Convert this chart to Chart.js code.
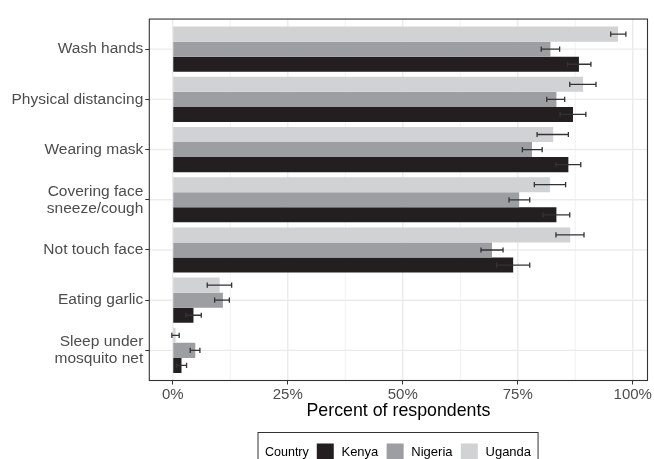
<!DOCTYPE html>
<html>
<head>
<meta charset="utf-8">
<title>Preventive measures by country</title>
<script src="https://cdn.jsdelivr.net/npm/chart.js@4.4.1/dist/chart.umd.min.js"></script>
<style>
  html, body { margin: 0; padding: 0; background: #ffffff; }
  #wrap { width: 654px; height: 459px; position: relative; }
</style>
</head>
<body>
<div id="wrap"><canvas id="chart" width="654" height="459"></canvas></div>
<script>
// Measures asked about, top to bottom
const categories = [
  'Wash hands',
  'Physical distancing',
  'Wearing mask',
  'Covering face\nsneeze/cough',
  'Not touch face',
  'Eating garlic',
  'Sleep under\nmosquito net'
];

const countries = ['Kenya', 'Nigeria', 'Uganda'];

// Percent of respondents, with lower / upper confidence limits
const kenya      = [88.3, 87.0, 86.0, 83.4, 74.0, 4.5, 1.9];
const kenyaLow   = [85.8, 84.2, 83.3, 80.5, 70.4, 2.8, 0.8];
const kenyaHigh  = [90.9, 89.8, 88.7, 86.3, 77.6, 6.2, 3.0];

const nigeria     = [82.1, 83.4, 78.1, 75.3, 69.4, 10.9, 4.9];
const nigeriaLow  = [80.1, 81.3, 76.0, 73.1, 67.0, 9.1, 3.8];
const nigeriaHigh = [84.1, 85.2, 80.3, 77.6, 71.8, 12.3, 5.9];

const uganda     = [96.8, 89.2, 82.7, 82.0, 86.4, 10.2, 0.6];
const ugandaLow  = [95.2, 86.3, 79.2, 78.6, 83.3, 7.5, -0.2];
const ugandaHigh = [98.5, 92.0, 86.0, 85.4, 89.4, 12.8, 1.4];

const xTicks = [0, 25, 50, 75, 100];

const colors = { Kenya: '#231f20', Nigeria: '#9d9ea2', Uganda: '#d1d2d4' };

const FONT = "'Liberation Sans', Arial, Helvetica, sans-serif";
Chart.defaults.font.family = FONT;

function series(label, values, low, high) {
  return {
    label: label,
    data: values.map((v, i) => ({ x: v, y: i + 1 })),
    low: low,
    high: high,
    backgroundColor: colors[label],
    borderWidth: 0,
    barPercentage: 1.0,
    categoryPercentage: 0.9
  };
}

// Uganda sits on top of each group, Kenya at the bottom
const datasets = [
  series('Uganda', uganda, ugandaLow, ugandaHigh),
  series('Nigeria', nigeria, nigeriaLow, nigeriaHigh),
  series('Kenya', kenya, kenyaLow, kenyaHigh)
];

// Light panel grid, behind the bars
const panelGrid = {
  id: 'panelGrid',
  beforeDatasetsDraw(chart) {
    const { ctx, chartArea: a, scales: { x, y } } = chart;
    ctx.save();
    ctx.strokeStyle = '#ebebeb';
    // minor vertical lines halfway between labelled ticks
    ctx.lineWidth = 0.7;
    for (let i = 0; i < xTicks.length - 1; i++) {
      const px = x.getPixelForValue((xTicks[i] + xTicks[i + 1]) / 2);
      ctx.beginPath(); ctx.moveTo(px, a.top); ctx.lineTo(px, a.bottom); ctx.stroke();
    }
    ctx.lineWidth = 1.4;
    xTicks.forEach(v => {
      const px = x.getPixelForValue(v);
      ctx.beginPath(); ctx.moveTo(px, a.top); ctx.lineTo(px, a.bottom); ctx.stroke();
    });
    categories.forEach((c, i) => {
      const py = y.getPixelForValue(i + 1);
      ctx.beginPath(); ctx.moveTo(a.left, py); ctx.lineTo(a.right, py); ctx.stroke();
    });
    ctx.restore();
  }
};

// Confidence intervals and the panel frame, over the bars
const errorBars = {
  id: 'errorBars',
  afterDatasetsDraw(chart) {
    const { ctx, chartArea: a, scales: { x } } = chart;
    ctx.save();
    ctx.strokeStyle = '#333333';
    ctx.lineWidth = 1.3;
    chart.data.datasets.forEach((ds, di) => {
      const meta = chart.getDatasetMeta(di);
      meta.data.forEach((bar, j) => {
        const x0 = x.getPixelForValue(ds.low[j]);
        const x1 = x.getPixelForValue(ds.high[j]);
        const yc = bar.y;
        const cap = 2.6;
        ctx.beginPath();
        ctx.moveTo(x0, yc); ctx.lineTo(x1, yc);
        ctx.moveTo(x0, yc - cap); ctx.lineTo(x0, yc + cap);
        ctx.moveTo(x1, yc - cap); ctx.lineTo(x1, yc + cap);
        ctx.stroke();
      });
    });
    ctx.strokeStyle = '#333333';
    ctx.lineWidth = 1.1;
    ctx.strokeRect(a.left, a.top, a.right - a.left, a.bottom - a.top);
    ctx.restore();
  }
};

// Boxed horizontal legend below the axis title
const countryLegend = {
  id: 'countryLegend',
  afterDraw(chart) {
    const ctx = chart.ctx;
    const order = countries.map(n => chart.data.datasets.find(d => d.label === n));
    const left = 258, top = 432.5, key = 17, midY = 452.5;
    ctx.save();
    ctx.textBaseline = 'middle';
    ctx.textAlign = 'left';
    ctx.fillStyle = '#000000';
    ctx.font = '12.5px ' + FONT;
    let cx = left + 7;
    ctx.fillText('Country', cx, midY);
    cx += ctx.measureText('Country').width + 8;
    ctx.font = '13px ' + FONT;
    order.forEach(ds => {
      ctx.fillStyle = ds.backgroundColor;
      ctx.fillRect(cx, midY - key / 2 - 0.5, key, key);
      cx += key + 7.7;
      ctx.fillStyle = '#000000';
      ctx.fillText(ds.label, cx, midY);
      cx += ctx.measureText(ds.label).width + 8.3;
    });
    const right = cx - 1.3;
    ctx.strokeStyle = '#333333';
    ctx.lineWidth = 1;
    ctx.strokeRect(left, top, right - left, 40);
    ctx.restore();
  }
};

new Chart(document.getElementById('chart'), {
  type: 'bar',
  data: { datasets: datasets },
  options: {
    indexAxis: 'y',
    responsive: false,
    animation: false,
    layout: { padding: { top: 13.3, right: 6.5, bottom: 37.5, left: 0 } },
    plugins: { legend: { display: false }, tooltip: { enabled: false } },
    scales: {
      x: {
        type: 'linear',
        min: -5.1,
        max: 103.2,
        afterBuildTicks(scale) { scale.ticks = xTicks.map(v => ({ value: v })); },
        afterFit(scale) { scale.height = 41; },
        ticks: {
          callback: v => v + '%',
          color: '#4d4d4d',
          font: { size: 15 },
          padding: 1,
          maxRotation: 0
        },
        grid: { drawOnChartArea: false, drawTicks: true, tickLength: 4, tickColor: '#333333', tickWidth: 1 },
        border: { display: false },
        title: {
          display: true,
          text: 'Percent of respondents',
          color: '#000000',
          font: { size: 17.8 },
          padding: { top: 0, bottom: 0 }
        }
      },
      y: {
        type: 'linear',
        reverse: true,
        offset: false,
        min: 0.4,
        max: 7.6,
        afterBuildTicks(scale) { scale.ticks = categories.map((c, i) => ({ value: i + 1 })); },
        afterFit(scale) { scale.width = 149.3; },
        ticks: {
          callback: v => categories[v - 1].split('\n'),
          color: '#4d4d4d',
          font: { size: 15.5, lineHeight: 1.1 },
          padding: 2
        },
        grid: { offset: false, drawOnChartArea: false, drawTicks: true, tickLength: 4, tickColor: '#333333', tickWidth: 1 },
        border: { display: false }
      }
    }
  },
  plugins: [panelGrid, errorBars, countryLegend]
});
</script>
</body>
</html>
